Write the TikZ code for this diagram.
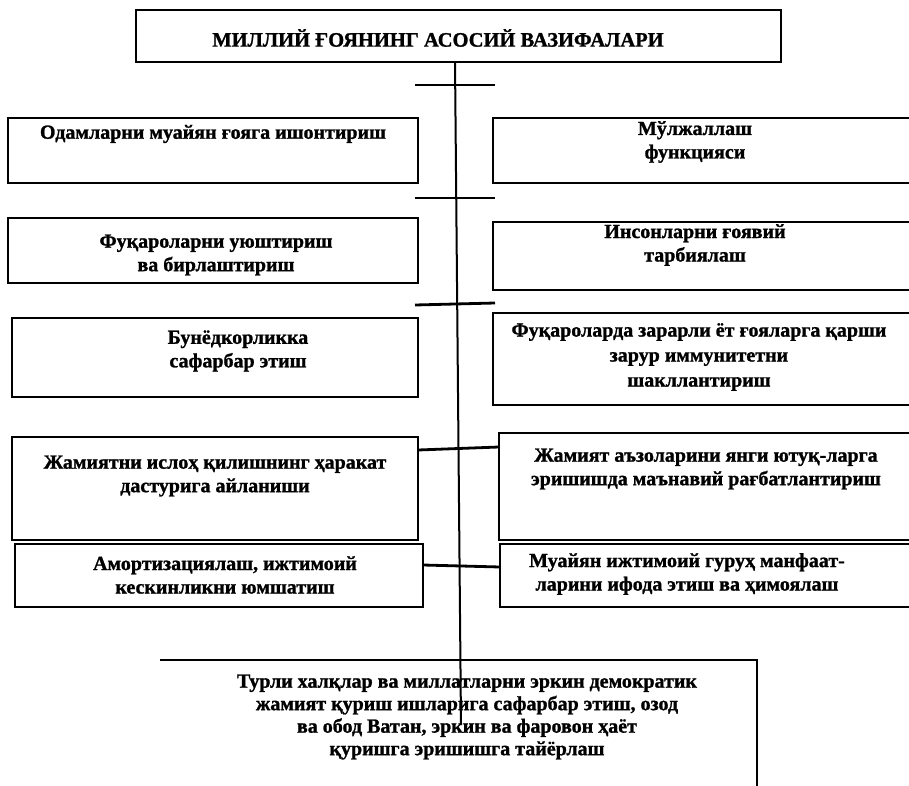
\documentclass[tikz,border=0pt]{standalone}
\usepackage{fontspec}
\setmainfont{Liberation Serif}[BoldFeatures={FakeBold=1.2}]
\begin{document}
\begin{tikzpicture}[x=1pt,y=-1pt,
  box/.style={draw=black,line width=2.8pt,rectangle,inner sep=0pt},
  txt/.style={align=center,inner sep=0pt,font=\fontsize{20}{23.5}\selectfont\bfseries},
  ttl/.style={inner sep=0pt,font=\fontsize{20.5}{23}\selectfont\bfseries},
  conn/.style={line width=2.8pt},
  vline/.style={line width=2pt}]
\clip (0,0) rectangle (909,786);
\fill[white] (0,0) rectangle (909,786);
% boxes
\draw[box] (136,10) rectangle (781,62);
\coordinate (tb) at (455,62);
\node[ttl] (title) at (438,38) {МИЛЛИЙ ҒОЯНИНГ АСОСИЙ ВАЗИФАЛАРИ};
\draw[box] (8,118) rectangle (418,183);
\draw[box] (493,118) rectangle (915,183);
\draw[box] (8,218) rectangle (418,283);
\draw[box] (493,222) rectangle (915,290);
\draw[box] (12,318) rectangle (418,397);
\draw[box] (493,313) rectangle (915,405);
\draw[box] (12,437) rectangle (418,540);
\draw[box] (499,433) rectangle (915,540);
\draw[box] (15,544) rectangle (423,607);
\draw[box] (500,544) rectangle (915,607);
\draw[box] (160,660) -- (757,660) -- (757,800);
% named anchors for connectors
\coordinate (l4e) at (418,450);
\coordinate (r4w) at (499,447);
\coordinate (l5e) at (423,565);
\coordinate (r5w) at (500,567);
\coordinate (vend) at (461,725);
\coordinate (k1a) at (415,85);  \coordinate (k1b) at (495,85);
\coordinate (k2a) at (415,198); \coordinate (k2b) at (495,198);
\coordinate (k3a) at (415,305); \coordinate (k3b) at (495,303);
% texts
\node[txt] (t1) at (213,134) {Одамларни муайян ғояга ишонтириш};
\node[txt] (t2) at (695,142) {Мўлжаллаш\\функцияси};
\node[txt] (t3) at (216,255) {Фуқароларни уюштириш\\ва бирлаштириш};
\node[txt] (t4) at (695,245) {Инсонларни ғоявий\\тарбиялаш};
\node[txt] (t5) at (238,351) {Бунёдкорликка\\сафарбар этиш};
\node[txt,font=\fontsize{20}{25}\selectfont\bfseries] (t6) at (699,357) {Фуқароларда зарарли ёт ғояларга қарши\\зарур иммунитетни\\шакллантириш};
\node[txt] (t7) at (215,476) {Жамиятни ислоҳ қилишнинг ҳаракат\\дастурига айланиши};
\node[txt] (t8) at (706,469) {Жамият аъзоларини янги ютуқ-ларга\\эришишда маънавий рағбатлантириш};
\node[txt] (t9) at (225,575) {Амортизациялаш, ижтимоий\\кескинликни юмшатиш};
\node[txt] (t10) at (687,574) {Муайян ижтимоий гуруҳ манфаат-\\ларини ифода этиш ва ҳимоялаш};
\node[txt,font=\fontsize{20}{22.5}\selectfont\bfseries] (t11) at (467,717) {Турли халқлар ва миллатларни эркин демократик\\жамият қуриш ишларига сафарбар этиш, озод\\ва обод Ватан, эркин ва фаровон ҳаёт\\қуришга эришишга тайёрлаш};
% connectors
\draw[vline] (tb) -- (vend);
\draw[conn] (k1a) -- (k1b);
\draw[conn] (k2a) -- (k2b);
\draw[conn] (k3a) -- (k3b);
\draw[conn] (l4e) -- (r4w);
\draw[conn] (l5e) -- (r5w);
\end{tikzpicture}
\end{document}
